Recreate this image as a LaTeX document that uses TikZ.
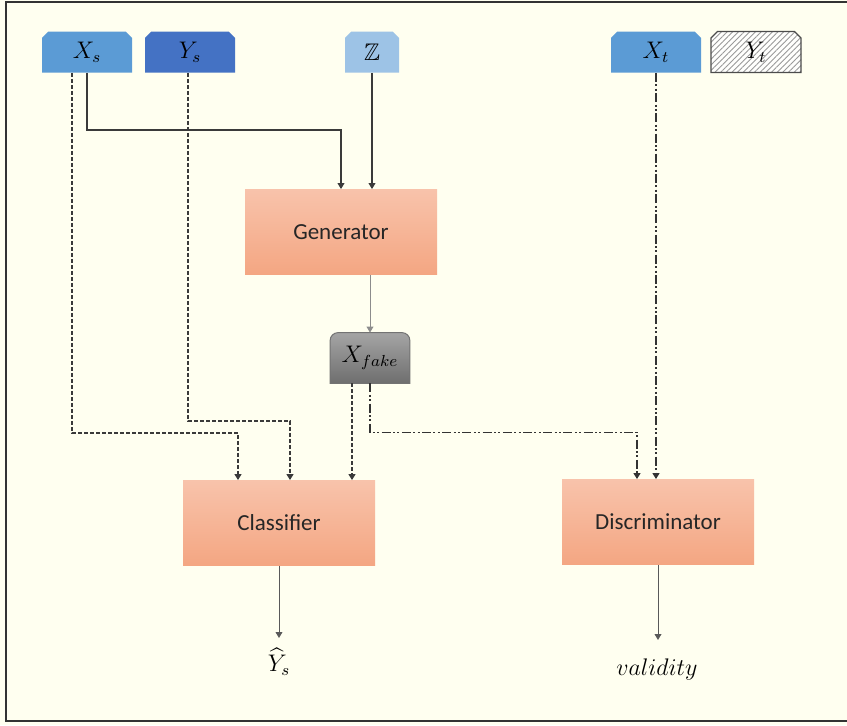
\documentclass[tikz,border=0pt]{standalone}
\usepackage{amsmath}
\usepackage{amssymb}
\usepackage{xcolor}
\usepackage{fontspec}
\setsansfont{Carlito}
\usepackage{tikz}
\usetikzlibrary{arrows.meta,shapes.misc,patterns.meta,backgrounds,calc}

\definecolor{paper}{HTML}{FFFFF0}
\definecolor{tagblue}{HTML}{5B9BD5}
\definecolor{tagdark}{HTML}{4472C4}
\definecolor{taglight}{HTML}{9DC3E6}
\definecolor{salmontop}{HTML}{F8C3AB}
\definecolor{salmonbot}{HTML}{F4A682}
\definecolor{faketop}{HTML}{A5A5A5}
\definecolor{fakebot}{HTML}{6E6E6E}
\definecolor{wire}{HTML}{3A3A3A}

\begin{document}
\begin{tikzpicture}[x=0.5pt,y=-0.5pt,
  tag/.style={chamfered rectangle, chamfered rectangle corners={north west,north east},
    chamfered rectangle xsep=1.6pt, chamfered rectangle ysep=1.6pt,
    minimum width=45pt, minimum height=20.5pt,
    inner sep=0pt, font=\fontsize{12}{14}\selectfont},
  block/.style={rectangle, minimum width=96pt, minimum height=42.5pt,
    top color=salmontop, bottom color=salmonbot, text=black!85,
    font=\sffamily\fontsize{11.5}{13}\selectfont},
  fakebox/.style={rectangle, minimum width=39.5pt, minimum height=25pt,
    font=\fontsize{12}{14}\selectfont},
  outlbl/.style={anchor=north, inner sep=5pt, font=\fontsize{12}{14}\selectfont},
  tip/.style={-{Triangle[length=3pt,width=3.4pt]}},
  solidwire/.style={tip, wire, line width=0.6pt},
  thinwire/.style={tip, black!45, line width=0.5pt},
  dashwire/.style={tip, wire, line width=0.8pt, dash pattern=on 2pt off 1pt},
  dotwire/.style={tip, black!80, line width=0.9pt,
    dash pattern=on 4.5pt off 1.2pt on 1pt off 1.2pt on 1pt off 1.2pt},
  outwire/.style={tip, black!65, line width=0.5pt}]

  \useasboundingbox (0,0) rectangle (847,725);
  \begin{scope}[on background layer]
    \fill[paper] (0,0) rectangle (847,725);
    \draw[black!80, line width=1.2pt] (6,2) rectangle (860,721);
  \end{scope}

  \node[tag, fill=tagblue] (xs) at (87,52) {$X_s$};
  \node[tag, fill=tagdark] (ys) at (190,52) {$Y_s$};
  \node[tag, fill=taglight, minimum width=27pt] (z) at (372,52) {$\mathbb{Z}$};
  \node[tag, fill=tagblue] (xt) at (656,52) {$X_t$};
  \node[tag, draw=black!70, line width=0.6pt, preaction={fill=white!85!paper},
    pattern={Lines[angle=45, distance=2pt, line width=0.45pt]},
    pattern color=black!40] (yt) at (756,52) {$Y_t$};

  \node[block] (gen) at (341,232) {Generator};
  \node[block] (cls) at (279,523) {Classifier};
  \node[block] (disc) at (658,522) {Discriminator};

  \node[fakebox] (xfake) at (370,358) {$X_{fake}$};
  \begin{scope}[on background layer]
    \shade[top color=faketop, bottom color=fakebot, draw=black!55, line width=0.5pt]
      (xfake.south west) -- ([yshift=-4pt]xfake.north west)
      arc[start angle=180, end angle=90, radius=4pt]
      -- ([xshift=-4pt]xfake.north east)
      arc[start angle=90, end angle=0, radius=4pt]
      -- (xfake.south east) -- cycle;
  \end{scope}

  \node[outlbl] (yhat) at (279,638) {$\widehat{Y}_s$};
  \node[outlbl, inner ysep=9pt] (valid) at (657,640) {$validity$};

  % generator inputs
  \draw[solidwire] (xs.south) -- ++(0,57) -| (gen.north);
  \draw[solidwire] (z.south) -- (z.south |- gen.north);
  \draw[thinwire] (xfake.north |- gen.south) -- (xfake.north);

  % classifier inputs
  \draw[dashwire] ($(xs.south)+(-15,0)$) -- ++(0,360) -| ($(cls.north)+(-41,0)$);
  \draw[dashwire] ($(ys.south)+(-2,0)$) -- ++(0,348) -| ($(cls.north)+(11,0)$);
  \draw[dashwire] ($(xfake.south)+(-18,0)$) -- ($(cls.north)+(73,0)$);

  % discriminator inputs
  \draw[dotwire] (xfake.south) -- ++(0,49) -| ($(disc.north)+(-21,0)$);
  \draw[dotwire] (xt.south) -- (xt.south |- disc.north);

  \draw[outwire] (cls.south) -- (yhat);
  \draw[outwire] (disc.south) -- (disc.south |- valid.north);
\end{tikzpicture}
\end{document}
